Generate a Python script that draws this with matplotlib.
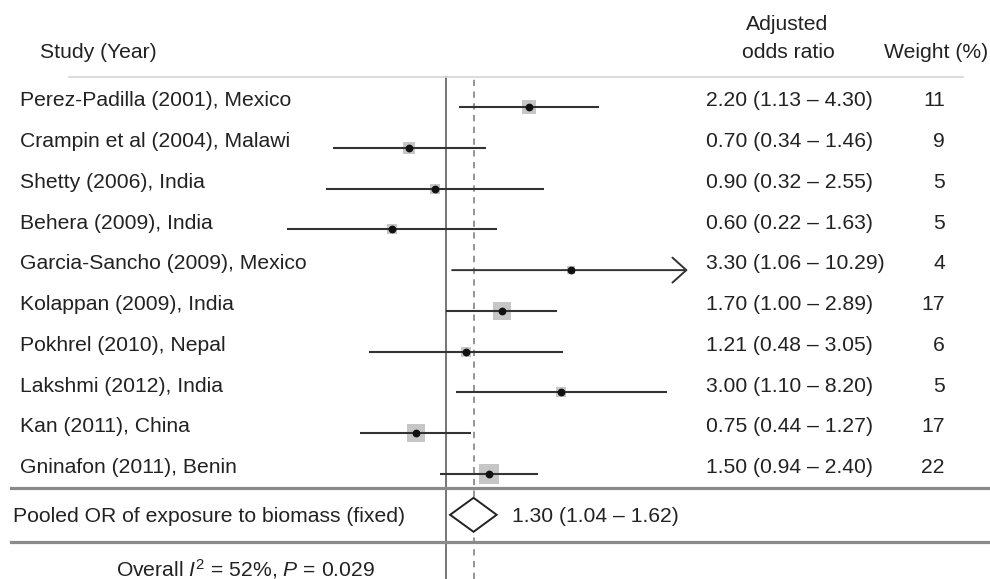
import numpy as np
import matplotlib
matplotlib.use("Agg")
import matplotlib.pyplot as plt
from matplotlib.patches import Polygon

plt.rcParams['font.family'] = ['Liberation Sans', 'DejaVu Sans']
plt.rcParams['mathtext.fontset'] = 'custom'
plt.rcParams['mathtext.rm'] = 'Liberation Sans'
plt.rcParams['mathtext.it'] = 'Liberation Sans:italic'

studies = ["Perez-Padilla (2001), Mexico", "Crampin et al (2004), Malawi",
           "Shetty (2006), India", "Behera (2009), India",
           "Garcia-Sancho (2009), Mexico", "Kolappan (2009), India",
           "Pokhrel (2010), Nepal", "Lakshmi (2012), India",
           "Kan (2011), China", "Gninafon (2011), Benin"]
odds = [2.20, 0.70, 0.90, 0.60, 3.30, 1.70, 1.21, 3.00, 0.75, 1.50]
lower = [1.13, 0.34, 0.32, 0.22, 1.06, 1.00, 0.48, 1.10, 0.44, 0.94]
upper = [4.30, 1.46, 2.55, 1.63, 10.29, 2.89, 3.05, 8.20, 1.27, 2.40]
weights = [11, 9, 5, 5, 4, 17, 6, 5, 17, 22]
pooled = (1.30, 1.04, 1.62)
het_text = "Overall $I^2$ = 52%, $P$ = 0.029"

W, H = 990, 579
fig = plt.figure(figsize=(W / 100, H / 100), dpi=100)
ax = fig.add_axes([0, 0, 1, 1])
ax.set_xscale('log')
# OR = 1 sits at pixel 446, 105 px per ln unit
ax.set_xlim(np.exp(-446 / 105), np.exp((W - 446) / 105))
row_px, row0 = 40.78, 107
ax.set_ylim((H - row0) / row_px, -row0 / row_px)
ax.axis('off')
x_clip = 10.0


def py(p):
    # pixel row -> data row
    return (p - row0) / row_px


txt = '#222222'
fs = 15.2
ty = ax.get_yaxis_transform()  # x in axes fraction, y in rows

n = len(studies)
rows = np.arange(n)
pool_row = n

# reference lines
top = 1 - 77 / H
ax.axvline(1, ymin=0, ymax=top, color='#505050', lw=1.1, zorder=1)
ax.axvline(pooled[0], ymin=0, ymax=top, color='#8c8c8c', lw=1.3,
           ls=(0, (3.5, 3)), zorder=1)

for i in rows:
    side = 4.26 * np.sqrt(weights[i]) * 0.72
    ax.scatter(odds[i], i, marker='s', s=side ** 2, color='#c6c6c6',
               zorder=2, linewidths=0)
    hi = min(upper[i], x_clip)
    if upper[i] > x_clip:
        ax.annotate('', xy=(hi, i), xytext=(lower[i], i),
                    arrowprops=dict(arrowstyle='->, head_length=0.5, head_width=0.45',
                                    lw=1.4, color='#333333', mutation_scale=20,
                                    shrinkA=0, shrinkB=0), zorder=3)
    else:
        ax.plot([lower[i], hi], [i, i], color='#333333', lw=1.5, zorder=3,
                solid_capstyle='butt')
    ax.plot(odds[i], i, 'o', color='#111111', ms=4.6, zorder=4)

    ax.text(20 / W, i - 0.02, studies[i], transform=ty, fontsize=fs,
            color=txt, va='baseline', ha='left')
    ax.text(706 / W, i - 0.02, f"{odds[i]:.2f} ({lower[i]:.2f} – {upper[i]:.2f})",
            transform=ty, fontsize=fs, color=txt, va='baseline', ha='left')
    ax.text(945 / W, i - 0.02, f"{weights[i]}", transform=ty, fontsize=fs,
            color=txt, va='baseline', ha='right')

# pooled diamond
h = 17 / row_px
est, lo, hi = pooled
ax.add_patch(Polygon([(lo, pool_row), (est, pool_row - h), (hi, pool_row),
                      (est, pool_row + h)], closed=True, facecolor='white',
                     edgecolor='#222222', lw=1.4, zorder=5))
ax.text(13 / W, py(522), "Pooled OR of exposure to biomass (fixed)",
        transform=ty, fontsize=fs, color=txt, va='baseline', ha='left')
ax.text(512 / W, py(522), f"{est:.2f} ({lo:.2f} – {hi:.2f})",
        transform=ty, fontsize=fs, color=txt, va='baseline', ha='left')

# separators
ax.axhline(py(488), xmin=11 / W, xmax=1, color='#8a8a8a', lw=2.3)
ax.axhline(py(542), xmin=11 / W, xmax=1, color='#8a8a8a', lw=2.3)
ax.axhline(py(77), xmin=69 / W, xmax=963 / W, color='#d4d4d4', lw=1.2)

ax.text(245 / W, py(576), het_text, transform=ty, fontsize=fs,
        color=txt, va='baseline', ha='center')

# headers
ax.text(40 / W, py(58), "Study (Year)", transform=ty, fontsize=fs, color=txt,
        va='baseline', ha='left')
ax.text(787 / W, py(30), "Adjusted", transform=ty, fontsize=fs,
        color=txt, va='baseline', ha='center')
ax.text(788 / W, py(58), "odds ratio", transform=ty, fontsize=fs,
        color=txt, va='baseline', ha='center')
ax.text(988 / W, py(58), "Weight (%)", transform=ty, fontsize=fs, color=txt,
        va='baseline', ha='right')

fig.savefig("out.png", dpi=100)
